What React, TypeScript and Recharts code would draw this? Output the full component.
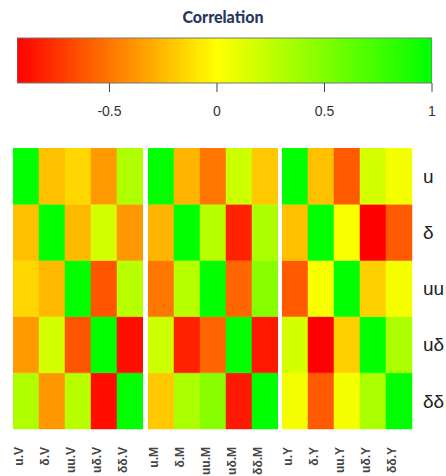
import React from 'react';
import { BarChart, Bar, Cell, XAxis, YAxis } from 'recharts';

// row / column names
const rowNames = ['u', 'δ', 'uu', 'uδ', 'δδ'];
const blockNames = ['V', 'M', 'Y'];

// correlation matrices, one per block (rows x columns)
const corrV = [
  [1, -0.23, -0.15, -0.37, 0.31],
  [-0.23, 1, -0.25, 0.17, -0.38],
  [-0.15, -0.25, 1, -0.62, 0.28],
  [-0.37, 0.17, -0.62, 1, -0.88],
  [0.31, -0.38, 0.28, -0.88, 1],
];
const corrM = [
  [1, -0.27, -0.5, 0.2, -0.2],
  [-0.27, 1, 0.28, -0.81, 0.33],
  [-0.5, 0.28, 1, -0.56, 0.47],
  [0.2, -0.81, -0.56, 1, -0.84],
  [-0.2, 0.33, 0.47, -0.84, 1],
];
const corrY = [
  [1, -0.23, -0.6, 0.17, 0.04],
  [-0.23, 1, 0.02, -0.93, -0.6],
  [-0.6, 0.02, 1, -0.17, 0.04],
  [0.17, -0.93, -0.17, 1, 0.33],
  [0.04, -0.6, 0.04, 0.33, 1],
];

// colour key
const keyDomain = [-0.93, 1];
const keyTicks = [-0.5, 0, 0.5, 1];

const corrColor = (v: number) => {
  const lo = keyDomain[0];
  if (v < 0) {
    const g = Math.round(255 * Math.max(0, 1 - v / lo));
    return `rgb(255,${g},0)`;
  }
  const r = Math.round(255 * Math.max(0, 1 - v));
  return `rgb(${r},255,0)`;
};

const FONT = '"Liberation Sans", Arial, sans-serif';
const PANEL_W = 130;
const PANEL_H = 281;
const AXIS_H = 60;

const ColTick = ({ x, y, payload }: any) => (
  <text
    transform={`translate(${x - 3},${y}) rotate(-90)`}
    textAnchor="end"
    fontSize={12}
    fontWeight="bold"
    fill="#444"
    fontFamily={FONT}
  >
    {payload.value}
  </text>
);

const HeatPanel = ({ block, matrix, showRows }: { block: string; matrix: number[][]; showRows: boolean }) => {
  const data = rowNames.map((col) => {
    const d: any = { name: `${col}.${block}` };
    rowNames.forEach((r) => { d[r] = 1; });
    return d;
  });
  // bottom row first so 'u' ends on top of the stack
  const stackOrder = rowNames.map((_, i) => i).reverse();
  return (
    <BarChart
      width={PANEL_W + (showRows ? 40 : 0)}
      height={PANEL_H + AXIS_H}
      data={data}
      margin={{ top: 0, right: 0, bottom: 0, left: 0 }}
      barCategoryGap={0}
      barGap={0}
    >
      <XAxis
        dataKey="name"
        interval={0}
        tickLine={false}
        axisLine={false}
        tickSize={0}
        tickMargin={18}
        height={AXIS_H}
        tick={<ColTick />}
      />
      <YAxis
        type="number"
        domain={[0, 5]}
        hide={!showRows}
        orientation="right"
        ticks={[0.5, 1.5, 2.5, 3.5, 4.5]}
        tickFormatter={(v: number) => rowNames[4 - Math.floor(v)]}
        tickLine={false}
        axisLine={false}
        tickSize={0}
        tickMargin={11}
        width={40}
        tick={{ fontSize: 19, fill: '#222', fontFamily: FONT, textAnchor: 'start' }}
      />
      {stackOrder.map((ri) => (
        <Bar key={rowNames[ri]} dataKey={rowNames[ri]} stackId="s" isAnimationActive={false}>
          {data.map((_, ci) => (
            <Cell key={ci} fill={corrColor(matrix[ri][ci])} stroke={corrColor(matrix[ri][ci])} strokeWidth={0.5} />
          ))}
        </Bar>
      ))}
    </BarChart>
  );
};

const keyData = [{ name: 'key', range: keyDomain }];

const ColourKey = () => (
  <BarChart
    width={446}
    height={130}
    layout="vertical"
    data={keyData}
    margin={{ top: 38, right: 14, bottom: 0, left: 17 }}
    barCategoryGap={0}
  >
    <XAxis
      type="number"
      domain={keyDomain}
      ticks={keyTicks}
      allowDataOverflow
      axisLine={false}
      tickSize={9}
      tickMargin={14}
      height={47}
      tickLine={{ stroke: '#444' }}
      tick={{ fontSize: 14, fill: '#333', fontFamily: FONT }}
    />
    <YAxis type="category" dataKey="name" hide />
    <Bar dataKey="range" fill="url(#corrGrad)" stroke="#777" strokeWidth={1} isAnimationActive={false} />
  </BarChart>
);

const panels = [corrV, corrM, corrY];
const panelLeft = [13, 148, 282];

export default function App() {
  const mid = (-keyDomain[0] / (keyDomain[1] - keyDomain[0])) * 100;
  return (
    <div
      style={{
        position: 'absolute',
        left: 0,
        top: 0,
        width: 446,
        height: 476,
        overflow: 'hidden',
        background: '#fff',
        fontFamily: FONT,
      }}
    >
      <svg width={0} height={0} style={{ position: 'absolute' }}>
        <defs>
          <linearGradient id="corrGrad" x1="0" y1="0" x2="1" y2="0">
            <stop offset="0%" stopColor={corrColor(keyDomain[0])} />
            <stop offset={`${mid}%`} stopColor={corrColor(0)} />
            <stop offset="100%" stopColor={corrColor(keyDomain[1])} />
          </linearGradient>
        </defs>
      </svg>
      <div
        style={{
          position: 'absolute',
          left: 0,
          top: 8,
          width: 446,
          textAlign: 'center',
          fontFamily: 'Lato, "Open Sans", sans-serif',
          fontWeight: 900,
          fontSize: 16,
          lineHeight: '18px',
          color: '#27375f',
        }}
      >
        Correlation
      </div>
      <div style={{ position: 'absolute', left: 0, top: 0 }}>
        <ColourKey />
      </div>
      {blockNames.map((b, i) => (
        <div key={b} style={{ position: 'absolute', left: panelLeft[i], top: 148 }}>
          <HeatPanel block={b} matrix={panels[i]} showRows={i === 2} />
        </div>
      ))}
    </div>
  );
}
